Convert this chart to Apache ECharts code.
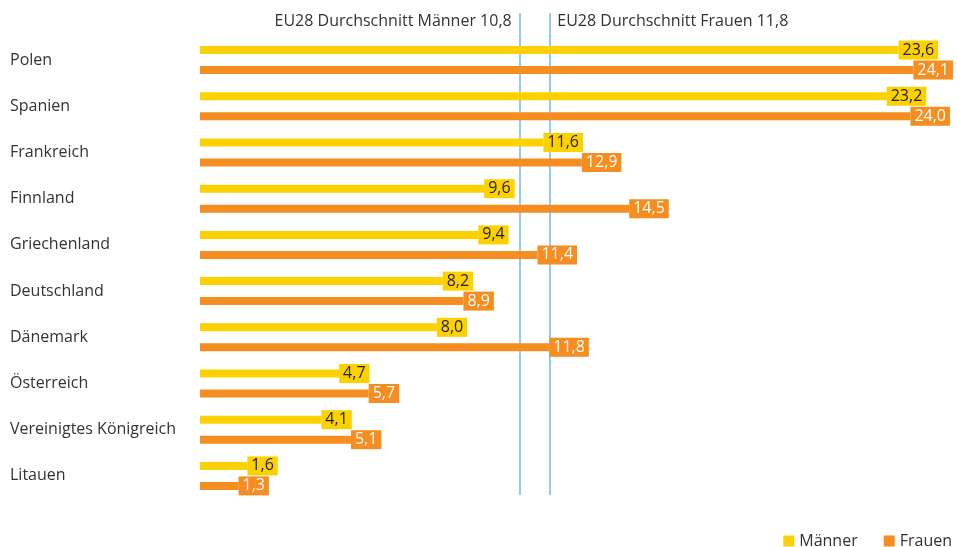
<!DOCTYPE html>
<html>
<head>
<meta charset="utf-8">
<script src="https://cdn.jsdelivr.net/npm/echarts@6/dist/echarts.min.js"></script>
<style>
  html, body { margin: 0; padding: 0; background: #fff; }
  #chart { width: 957px; height: 547px; }
</style>
</head>
<body>
<div id="chart"></div>
<script>
// Daten
const laender = ["Polen", "Spanien", "Frankreich", "Finnland", "Griechenland", "Deutschland", "Dänemark", "Österreich", "Vereinigtes Königreich", "Litauen"];
const maenner = [23.6, 23.2, 11.6, 9.6, 9.4, 8.2, 8.0, 4.7, 4.1, 1.6];
const frauen = [24.1, 24.0, 12.9, 14.5, 11.4, 8.9, 11.8, 5.7, 5.1, 1.3];
const euMaenner = 10.8;
const euFrauen = 11.8;

const gelb = "#FDD100";
const orange = "#F68D21";
const blau = "#92CBEE";
const fontFam = "'Open Sans', 'Noto Sans', sans-serif";

const fmt = v => String(v.toFixed(1)).replace(".", ",");

let chart = echarts.init(document.getElementById("chart"));

let option = {
  animation: false,
  textStyle: { fontFamily: fontFam },
  legend: {
    right: 0,
    top: 528,
    icon: "rect",
    itemWidth: 11,
    itemHeight: 11,
    itemGap: 26,
    textStyle: { fontSize: 16, color: "#333", fontFamily: fontFam },
    data: ["Männer", "Frauen"]
  },
  grid: [
    { left: 200, right: 17, top: 37, bottom: 48 },
    { left: 200, right: 17, top: 13, bottom: 52 }
  ],
  xAxis: [
    { type: "value", min: 0, max: 25, show: false, gridIndex: 0 },
    { type: "value", min: 0, max: 25, show: false, gridIndex: 1 }
  ],
  yAxis: [
    {
      type: "category",
      data: laender,
      inverse: true,
      gridIndex: 0,
      axisLine: { show: false },
      axisTick: { show: false },
      axisLabel: {
        align: "left",
        margin: 190,
        fontSize: 16,
        color: "#333",
        fontFamily: fontFam
      }
    },
    { type: "value", min: 0, max: 1, show: false, gridIndex: 1 }
  ],
  series: [
    {
      // EU28 Linien (unter den Balken)
      type: "line",
      data: [],
      xAxisIndex: 1,
      yAxisIndex: 1,
      silent: true,
      z: 1,
      markLine: {
        symbol: "none",
        silent: true,
        z: 1,
        lineStyle: { color: blau, width: 2, type: "solid" },
        data: [
          {
            xAxis: euMaenner,
            label: {
              show: true,
              position: "end",
              distance: -8,
              align: "right",
              verticalAlign: "middle",
              padding: [0, 8, 0, 0],
              formatter: "EU28 Durchschnitt Männer " + fmt(euMaenner),
              fontSize: 16,
              color: "#333",
              fontFamily: fontFam
            }
          },
          {
            xAxis: euFrauen,
            label: {
              show: true,
              position: "end",
              distance: -8,
              align: "left",
              verticalAlign: "middle",
              padding: [0, 0, 0, 8],
              formatter: "EU28 Durchschnitt Frauen " + fmt(euFrauen),
              fontSize: 16,
              color: "#333",
              fontFamily: fontFam
            }
          }
        ]
      }
    },
    {
      name: "Männer",
      type: "bar",
      data: maenner,
      barWidth: 8,
      barGap: "150%",
      z: 3,
      itemStyle: { color: gelb },
      label: {
        show: true,
        position: "right",
        distance: 0,
        formatter: p => fmt(p.value),
        backgroundColor: gelb,
        color: "#222",
        fontSize: 16,
        lineHeight: 17,
        padding: [1, 4, 1, 4],
        fontFamily: fontFam
      }
    },
    {
      name: "Frauen",
      type: "bar",
      data: frauen,
      barWidth: 8,
      z: 3,
      itemStyle: { color: orange },
      label: {
        show: true,
        position: "right",
        distance: 0,
        formatter: p => fmt(p.value),
        backgroundColor: orange,
        color: "#fff",
        fontSize: 16,
        lineHeight: 17,
        padding: [1, 4, 1, 4],
        fontFamily: fontFam
      }
    }
  ]
};

chart.setOption(option);
</script>
</body>
</html>
